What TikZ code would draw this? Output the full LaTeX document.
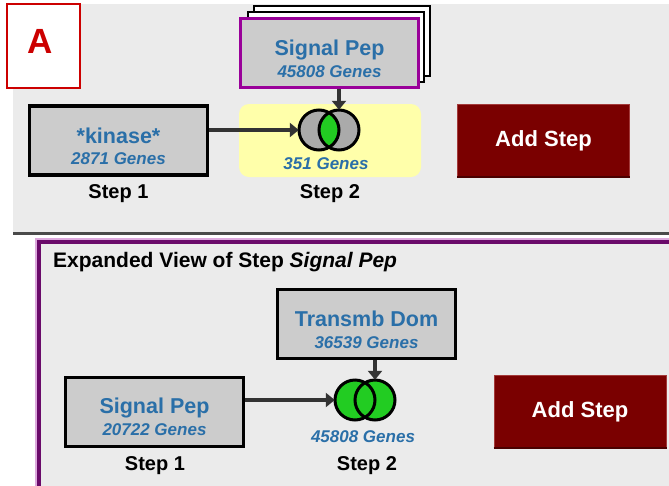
\documentclass[tikz,border=0pt]{standalone}
\usepackage{fontspec}
\setmainfont{Liberation Sans}
\usetikzlibrary{arrows.meta}
\definecolor{panelbg}{HTML}{EBEBEB}
\definecolor{boxgray}{HTML}{CCCCCC}
\definecolor{textblue}{HTML}{2A6FA8}
\definecolor{btnred}{HTML}{7A0000}
\definecolor{btnedge}{HTML}{A33A3A}
\definecolor{btndark}{HTML}{4A0000}
\definecolor{arrgray}{HTML}{333333}
\definecolor{venngray}{HTML}{AAAAAA}
\definecolor{venngreen}{HTML}{22CC22}
\definecolor{sigpurple}{HTML}{990099}
\definecolor{darkpurple}{HTML}{6A0A6A}
\definecolor{pinkline}{HTML}{DDA8DD}
\definecolor{sepgray}{HTML}{4A4A4A}
\definecolor{hiyellow}{HTML}{FFFFAA}
\definecolor{lblred}{HTML}{CC0000}
\begin{document}
\begin{tikzpicture}[x=1pt,y=-1pt,
  genebox/.style={draw=black, line width=3.2pt, fill=boxgray, minimum width=178pt, minimum height=69pt, inner sep=0pt},
  pagebox/.style={draw=black, line width=2pt, fill=white, minimum width=176pt, minimum height=70pt, inner sep=0pt},
  titletxt/.style={anchor=base, text=textblue, inner sep=0pt, font=\fontsize{21.5}{24}\selectfont\bfseries},
  genestxt/.style={anchor=base, text=textblue, inner sep=0pt, font=\fontsize{17}{20}\selectfont\bfseries\itshape},
  steptxt/.style={anchor=base, inner sep=0pt, font=\fontsize{20}{24}\selectfont\bfseries},
  addbtn/.style={fill=btnred, draw=btnedge, line width=1pt, minimum width=172pt, minimum height=72pt, inner sep=0pt, text=white, font=\fontsize{22}{26}\selectfont\bfseries},
  arr/.style={draw=arrgray, line width=4.5pt, -{Triangle[length=9pt,width=14pt]}},
  vennc/.style={circle, minimum size=40pt, inner sep=0pt},
  vline/.style={draw=black, line width=3pt}
]
\useasboundingbox (0,0) rectangle (669,485);
\fill[white] (0,0) rectangle (669,485);
% top panel
\fill[panelbg] (13,4) rectangle (669,232);
\fill[sepgray] (13,232) rectangle (669,235);
% bottom panel
\fill[pinkline] (35,238) rectangle (680,495);
\fill[darkpurple] (37,240) rectangle (680,495);
\fill[panelbg] (41,244) rectangle (680,495);

% label A
\node[draw=lblred, fill=white, line width=2pt, minimum width=73pt, minimum height=84pt, inner sep=0pt] (labA) at (43.5,46) {};
\node[anchor=base, text=lblred, inner sep=0pt, font=\fontsize{35}{40}\selectfont\bfseries] (labAtxt) at (40,53) {A};

% ---- top workflow ----
\node[fill=hiyellow, rounded corners=10pt, minimum width=182pt, minimum height=73pt, inner sep=0pt] (yel) at (330,140.5) {};

\node[pagebox] (pg3) at (342,41) {};
\node[pagebox] (pg2) at (336,47) {};
\node[genebox, draw=sigpurple] (sp) at (329.5,53) {};
\node[titletxt] (sptitle) at ([yshift=-2pt]sp.center) {Signal Pep};
\node[genestxt] (spgenes) at ([yshift=-24pt]sp.center) {45808 Genes};

\node[genebox] (kin) at (118.5,140.5) {};
\node[titletxt] (kintitle) at ([yshift=-2.5pt]kin.center) {*kinase*};
\node[genestxt] (kingenes) at ([yshift=-23.5pt]kin.center) {2871 Genes};

\node[vennc, fill=venngray] (t1) at (319,130) {};
\node[vennc, fill=venngray] (t2) at (339,130) {};
\begin{scope}
  \clip (t1.center) circle[radius=20];
  \fill[venngreen] (t2.center) circle[radius=20];
\end{scope}
\draw[vline] (t1.center) circle[radius=20];
\draw[vline] (t2.center) circle[radius=20];
\node[genestxt] (tvgenes) at (326,169) {351 Genes};

\draw[arr] (t1.west -| kin.east) -- (t1.west);
\draw[arr] (t2.north |- sp.south) -- (t2.north);

\node[steptxt] (tstep1) at (118.5,198) {Step 1};
\node[steptxt] (tstep2) at (330,198) {Step 2};

\node[addbtn] (tbtn) at (543.5,140.5) {Add Step};
\draw[btndark, line width=1.5pt] (tbtn.south west) -- (tbtn.south east);

% ---- bottom expanded view ----
\node[anchor=base west, inner sep=0pt, font=\fontsize{21}{24}\selectfont\bfseries] (hdr) at (53,267) {Expanded View of Step \textit{Signal Pep}};

\node[genebox] (tm) at (366.5,324) {};
\node[titletxt] (tmtitle) at ([yshift=-2pt]tm.center) {Transmb Dom};
\node[genestxt] (tmgenes) at ([yshift=-24pt]tm.center) {36539 Genes};

\node[genebox] (sp2) at (154.5,412) {};
\node[titletxt] (sp2title) at ([yshift=-1.5pt]sp2.center) {Signal Pep};
\node[genestxt] (sp2genes) at ([yshift=-23.5pt]sp2.center) {20722 Genes};

\node[vennc, fill=venngreen] (b1) at (355,400) {};
\node[vennc, fill=venngreen] (b2) at (375,400) {};
\draw[vline] (b1.center) circle[radius=20];
\draw[vline] (b2.center) circle[radius=20];
\node[genestxt] (bvgenes) at (363,442) {45808 Genes};

\draw[arr] (b1.west -| sp2.east) -- (b1.west);
\draw[arr] (b2.north |- tm.south) -- (b2.north);

\node[steptxt] (bstep1) at (155,470) {Step 1};
\node[steptxt] (bstep2) at (367,470) {Step 2};

\node[addbtn] (bbtn) at (580,411.5) {Add Step};
\draw[btndark, line width=1.5pt] (bbtn.south west) -- (bbtn.south east);
\end{tikzpicture}
\end{document}
